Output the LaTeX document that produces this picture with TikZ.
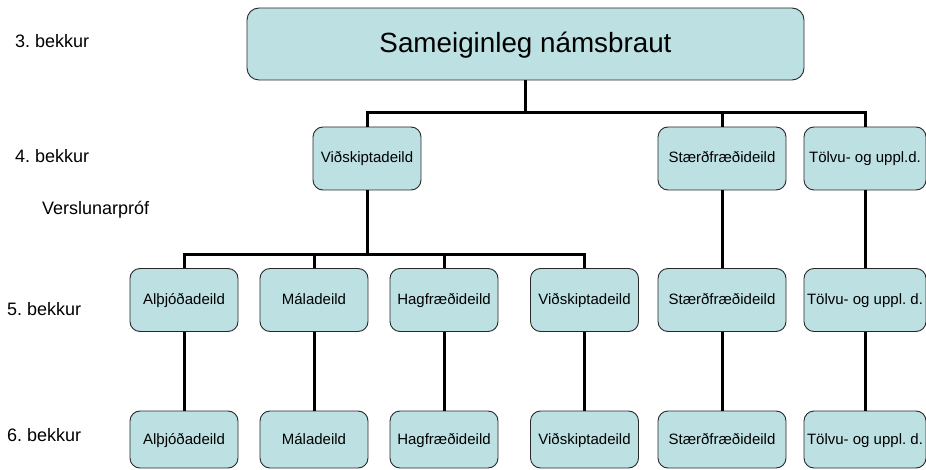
\documentclass[tikz,border=0pt]{standalone}
\usepackage{fontspec}
\setmainfont{Liberation Sans}
\frenchspacing
\definecolor{boxfill}{RGB}{189,224,227}
\definecolor{boxline}{RGB}{40,40,40}
\begin{document}
\begin{tikzpicture}[x=1pt,y=1pt,
  dept/.style={draw=boxline,line width=0.9pt,fill=boxfill,rounded corners=10pt,
    inner sep=0pt,text height=11pt,text depth=2pt,font=\fontsize{15}{18}\selectfont},
  lbl/.style={anchor=west,inner sep=0pt,text height=13pt,text depth=4pt,font=\fontsize{18}{21}\selectfont},
  conn/.style={line width=3pt}]
\useasboundingbox (0,0) rectangle (926,-470);
% top box
\node[dept,rounded corners=12pt,minimum width=557pt,minimum height=72pt,
  text height=20pt,text depth=2pt,
  font=\fontsize{27.8}{32}\selectfont] (top) at (525.5,-44) {Sameiginleg námsbraut};
% row 4
\node[dept,minimum width=108pt,minimum height=63pt] (v4) at (367,-158.5) {Viðskiptadeild};
\node[dept,minimum width=128pt,minimum height=63pt] (s4) at (722,-158.5) {Stærðfræðideild};
\node[dept,minimum width=122pt,minimum height=63pt] (t4) at (865,-158.5) {Tölvu- og uppl.d.};
% row 5
\node[dept,minimum width=108pt,minimum height=63pt] (a5) at (184,-300) {Alþjóðadeild};
\node[dept,minimum width=108pt,minimum height=63pt] (m5) at (314,-300) {Máladeild};
\node[dept,minimum width=108pt,minimum height=63pt] (h5) at (444,-300) {Hagfræðideild};
\node[dept,minimum width=108pt,minimum height=63pt] (v5) at (584.5,-300) {Viðskiptadeild};
\node[dept,minimum width=128pt,minimum height=63pt] (s5) at (722,-300) {Stærðfræðideild};
\node[dept,minimum width=122pt,minimum height=63pt] (t5) at (865,-300) {Tölvu- og uppl. d.};
% row 6
\node[dept,minimum width=108pt,minimum height=57pt] (a6) at (184,-439.5) {Alþjóðadeild};
\node[dept,minimum width=108pt,minimum height=57pt] (m6) at (314,-439.5) {Máladeild};
\node[dept,minimum width=108pt,minimum height=57pt] (h6) at (444,-439.5) {Hagfræðideild};
\node[dept,minimum width=108pt,minimum height=57pt] (v6) at (584.5,-439.5) {Viðskiptadeild};
\node[dept,minimum width=128pt,minimum height=57pt] (s6) at (722,-439.5) {Stærðfræðideild};
\node[dept,minimum width=122pt,minimum height=57pt] (t6) at (865,-439.5) {Tölvu- og uppl. d.};
% labels
\node[lbl] (l3) at (15,-43) {3. bekkur};
\node[lbl] (l4) at (15,-158) {4. bekkur};
\node[lbl] (lv) at (42,-210) {Verslunarpróf};
\node[lbl] (l5) at (7,-311) {5. bekkur};
\node[lbl] (l6) at (7,-437) {6. bekkur};
% connectors
\draw[conn] (top.south) -- ++(0,-33);
\draw[conn] (v4.north) -- ++(0,14) -| (t4.north);
\draw[conn] (s4.north) -- ++(0,14);
\draw[conn] (v4.south) -- ++(0,-65);
\draw[conn] (a5.north) -- ++(0,14) -| (v5.north);
\draw[conn] (m5.north) -- ++(0,14);
\draw[conn] (h5.north) -- ++(0,14);
\draw[conn] (s4.south) -- (s5.north);
\draw[conn] (t4.south) -- (t5.north);
\draw[conn] (a5.south) -- (a6.north);
\draw[conn] (m5.south) -- (m6.north);
\draw[conn] (h5.south) -- (h6.north);
\draw[conn] (v5.south) -- (v6.north);
\draw[conn] (s5.south) -- (s6.north);
\draw[conn] (t5.south) -- (t6.north);
\end{tikzpicture}
\end{document}
